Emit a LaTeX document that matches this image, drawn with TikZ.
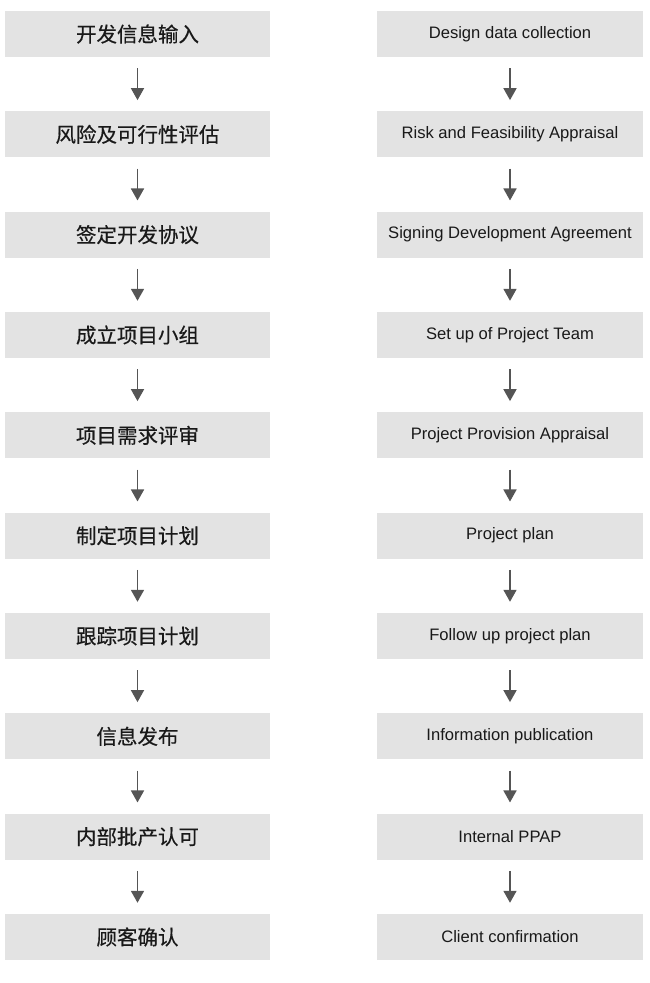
\documentclass[tikz,border=0pt]{standalone}
\usepackage{fontspec}
\setmainfont{Liberation Sans}
\newfontfamily\cjk[FakeBold=0.4]{Noto Sans CJK SC}
\usetikzlibrary{arrows.meta}
\definecolor{boxgray}{HTML}{E3E3E3}
\definecolor{arrowgray}{HTML}{555555}
\tikzset{
  cnbox/.style={fill=boxgray, draw=none, minimum width=265pt, minimum height=46pt, inner sep=0pt, font=\cjk\fontsize{20.5pt}{23pt}\selectfont, text=black!90},
  enbox/.style={fill=boxgray, draw=none, minimum width=266pt, minimum height=46pt, inner sep=0pt, font=\fontsize{16.6pt}{19pt}\selectfont, text=black!90},
  flow/.style={draw=arrowgray, line width=1.7pt, shorten <=11pt, shorten >=11pt, -{Triangle[length=12pt,width=13pt]}}
}
\begin{document}
\begin{tikzpicture}[x=1pt,y=1pt]
\useasboundingbox (0,0) rectangle (650,-983);
\foreach \i/\t in {0/开发信息输入,1/风险及可行性评估,2/签定开发协议,3/成立项目小组,4/项目需求评审,5/制定项目计划,6/跟踪项目计划,7/信息发布,8/内部批产认可,9/顾客确认}{
  \node[cnbox] (L\i) at (137.5,{-34-100.33*\i}) {\t};
}
\foreach \i/\t in {0/Design data collection,1/Risk and Feasibility Appraisal,2/Signing Development Agreement,3/Set up of Project Team,4/Project Provision Appraisal,5/Project plan,6/Follow up project plan,7/Information publication,8/Internal PPAP,9/Client confirmation}{
  \node[enbox] (R\i) at (510,{-34-100.33*\i}) {\t};
}
\foreach \i [evaluate=\i as \j using int(\i+1)] in {0,...,8}{
  \draw[flow] (L\i.south) -- (L\j.north);
  \draw[flow] (R\i.south) -- (R\j.north);
}
\end{tikzpicture}
\end{document}
